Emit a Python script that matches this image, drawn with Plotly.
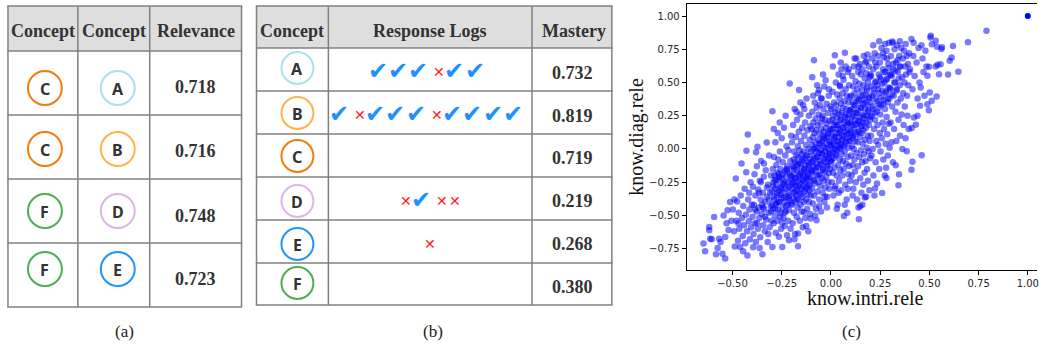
import plotly.graph_objects as go

# ---------------- data: table (a) ----------------
rel_header = ["Concept", "Concept", "Relevance"]
rel_concept_1 = ["C", "C", "F", "F"]
rel_concept_2 = ["A", "B", "D", "E"]
relevance = ["0.718", "0.716", "0.748", "0.723"]

# ---------------- data: table (b) ----------------
mas_header = ["Concept", "Response Logs", "Mastery"]
mas_concepts = ["A", "B", "C", "D", "E", "F"]
response_logs = ["✓✓✓✗✓✓", "✓✗✓✓✓✗✓✓✓✓", "", "✗✓✗✗", "✗", ""]
mastery = ["0.732", "0.819", "0.719", "0.219", "0.268", "0.380"]

captions = ["(a)", "(b)", "(c)"]

# ---------------- data: scatter (c), read by x-band ----------------
band_a = [(-0.647,-0.712),(-0.639,-0.770),(-0.618,-0.587),(-0.618,-0.612),(-0.613,-0.675),
          (-0.593,-0.512),(-0.584,-0.793),(-0.568,-0.675),(-0.551,-0.788),(-0.537,-0.825),
          (-0.537,-0.662),(-0.525,-0.462),(-0.512,-0.399),(-0.605,-0.680),(-0.560,-0.700),
          (-0.530,-0.560),(-0.520,-0.610),(-0.505,-0.540),(-0.545,-0.500),(-0.575,-0.745)]
band_b = [(-0.498,-0.455),(-0.492,-0.620),(-0.488,-0.735),(-0.483,-0.223),(-0.480,-0.540),
          (-0.476,-0.395),(-0.472,-0.690),(-0.468,-0.480),(-0.465,-0.600),(-0.461,-0.738),
          (-0.458,-0.350),(-0.454,-0.110),(-0.452,-0.520),(-0.448,-0.655),(-0.445,-0.430),
          (-0.441,-0.575),(-0.438,-0.300),(-0.435,-0.710),(-0.432,-0.495),(-0.429,-0.014),
          (-0.426,-0.620),(-0.424,-0.801),(-0.422,0.108),(-0.420,-0.380),(-0.417,-0.545),
          (-0.414,-0.455),(-0.411,-0.680),(-0.408,-0.250),(-0.405,-0.590),(-0.402,-0.420),
          (-0.446,-0.770),(-0.470,-0.560),(-0.415,-0.330),(-0.430,-0.175),(-0.490,-0.380)]
band_c = [(-0.398,-0.510),(-0.396,-0.285),(-0.393,-0.640),(-0.391,-0.420),(-0.388,-0.190),
          (-0.386,-0.560),(-0.383,-0.350),(-0.381,-0.700),(-0.378,-0.470),(-0.376,-0.130),
          (-0.373,0.016),(-0.371,-0.600),(-0.369,-0.305),(-0.366,-0.440),(-0.364,-0.520),
          (-0.361,-0.240),(-0.359,-0.665),(-0.356,-0.380),(-0.354,-0.090),(-0.351,-0.490),
          (-0.348,-0.793),(-0.346,-0.330),(-0.344,-0.575),(-0.341,-0.210),(-0.339,-0.450),
          (-0.336,-0.620),(-0.334,-0.400),(-0.331,-0.160),(-0.329,-0.530),(-0.326,0.049),
          (-0.324,-0.360),(-0.321,-0.700),(-0.319,-0.270),(-0.316,-0.480),(-0.314,-0.050),
          (-0.311,-0.590),(-0.309,-0.330),(-0.306,-0.430),(-0.304,-0.200),(-0.302,-0.540),
          (-0.385,-0.455),(-0.375,-0.560),(-0.365,-0.330),(-0.355,-0.250),(-0.345,-0.440),
          (-0.335,-0.510),(-0.325,-0.290),(-0.315,-0.380),(-0.305,-0.470),(-0.395,-0.740),
          (-0.362,-0.745),(-0.318,-0.640),(-0.340,-0.110),(-0.380,-0.025),(-0.350,-0.420)]
band_d = [(-0.299,-0.320),(-0.297,0.284),(-0.297,-0.738),(-0.295,-0.150),(-0.294,-0.450),
          (-0.292,-0.250),(-0.291,-0.560),(-0.289,-0.060),(-0.288,-0.380),(-0.286,-0.200),
          (-0.285,-0.500),(-0.283,-0.300),(-0.282,0.050),(-0.280,-0.630),(-0.279,-0.420),
          (-0.277,-0.120),(-0.276,-0.270),(-0.274,-0.350),(-0.273,-0.540),(-0.271,-0.180),
          (-0.270,0.120),(-0.268,-0.460),(-0.267,-0.080),(-0.265,-0.310),(-0.264,-0.660),
          (-0.262,-0.230),(-0.261,-0.400),(-0.259,-0.020),(-0.258,-0.510),(-0.256,-0.150),
          (-0.255,-0.290),(-0.253,-0.600),(-0.252,-0.370),(-0.250,0.080),(-0.249,-0.220),
          (-0.247,-0.738),(-0.246,-0.440),(-0.244,-0.100),(-0.243,-0.330),(-0.241,-0.520),
          (-0.240,-0.260),(-0.238,0.160),(-0.237,-0.400),(-0.235,-0.170),(-0.234,-0.580),
          (-0.232,-0.050),(-0.231,-0.300),(-0.229,-0.470),(-0.228,-0.210),(-0.226,-0.360),
          (-0.225,0.020),(-0.223,-0.650),(-0.222,-0.130),(-0.220,-0.420),(-0.219,-0.250),
          (-0.217,-0.540),(-0.216,-0.010),(-0.214,-0.330),(-0.213,-0.460),(-0.211,-0.180),
          (-0.210,-0.280),(-0.209,0.493),(-0.208,-0.390),(-0.206,-0.090),(-0.205,-0.600),
          (-0.203,-0.230),(-0.202,0.100),(-0.213,-0.688),(-0.285,-0.235),(-0.275,-0.405),
          (-0.265,-0.190),(-0.255,-0.345),(-0.245,-0.265),(-0.235,-0.480),(-0.225,-0.150),
          (-0.215,-0.370),(-0.260,0.200),(-0.290,0.150),(-0.230,0.250),(-0.248,-0.555)]
band_e = [(-0.199,-0.210),(-0.198,-0.420),(-0.197,0.050),(-0.196,-0.300),(-0.195,-0.130),
          (-0.194,-0.560),(-0.193,-0.250),(-0.192,0.180),(-0.191,-0.370),(-0.190,-0.080),
          (-0.189,-0.190),(-0.188,-0.480),(-0.187,-0.020),(-0.186,-0.330),(-0.185,-0.150),
          (-0.184,0.300),(-0.183,-0.270),(-0.182,-0.640),(-0.181,-0.100),(-0.180,-0.400),
          (-0.179,-0.220),(-0.178,0.090),(-0.177,-0.350),(-0.176,-0.050),(-0.175,-0.280),
          (-0.174,-0.510),(-0.173,-0.160),(-0.172,0.220),(-0.171,-0.310),(-0.170,-0.120),
          (-0.169,-0.440),(-0.168,0.020),(-0.167,-0.733),(-0.167,-0.637),(-0.166,-0.240),
          (-0.165,-0.060),(-0.164,-0.380),(-0.163,0.130),(-0.162,0.443),(-0.161,-0.200),
          (-0.160,-0.330),(-0.159,-0.010),(-0.158,-0.540),(-0.157,-0.260),(-0.156,-0.110),
          (-0.155,0.260),(-0.154,-0.420),(-0.153,-0.180),(-0.152,0.060),(-0.151,-0.300),
          (-0.150,-0.140),(-0.149,-0.470),(-0.148,-0.040),(-0.147,-0.230),(-0.146,0.160),
          (-0.145,-0.360),(-0.144,-0.090),(-0.143,-0.590),(-0.142,-0.200),(-0.141,0.330),
          (-0.140,-0.280),(-0.139,-0.020),(-0.138,-0.400),(-0.137,-0.474),(-0.136,-0.150),
          (-0.135,0.100),(-0.134,-0.320),(-0.133,-0.070),(-0.132,-0.250),(-0.131,0.200),
          (-0.130,-0.520),(-0.129,-0.120),(-0.128,-0.210),(-0.127,0.030),(-0.126,-0.380),
          (-0.125,-0.170),(-0.124,0.380),(-0.123,-0.290),(-0.122,-0.050),(-0.121,-0.450),
          (-0.120,-0.230),(-0.119,0.140),(-0.118,-0.340),(-0.117,-0.100),(-0.116,-0.190),
          (-0.115,-0.620),(-0.114,0.000),(-0.113,-0.270),(-0.112,0.250),(-0.111,-0.400),
          (-0.110,-0.140),(-0.109,-0.310),(-0.108,0.070),(-0.107,-0.220),(-0.106,-0.490),
          (-0.105,-0.080),(-0.104,0.170),(-0.103,-0.524),(-0.102,-0.350),(-0.101,-0.160),
          (-0.175,0.280),(-0.155,0.350),(-0.135,0.300),(-0.185,-0.680),(-0.125,-0.580)]
band_f = [(-0.099,-0.100),(-0.098,0.150),(-0.097,-0.300),(-0.096,0.030),(-0.095,-0.180),
          (-0.094,0.280),(-0.093,-0.050),(-0.092,-0.410),(-0.091,0.090),(-0.090,-0.230),
          (-0.089,0.200),(-0.088,-0.130),(-0.087,0.000),(-0.086,0.668),(-0.085,-0.350),
          (-0.084,0.120),(-0.083,-0.070),(-0.082,0.350),(-0.081,-0.260),(-0.080,0.050),
          (-0.079,-0.160),(-0.078,0.230),(-0.077,-0.020),(-0.076,-0.450),(-0.075,0.140),
          (-0.074,-0.110),(-0.073,-0.537),(-0.072,0.310),(-0.071,-0.200),(-0.070,0.010),
          (-0.069,-0.320),(-0.068,0.180),(-0.067,-0.060),(-0.066,0.420),(-0.065,-0.140),
          (-0.064,0.070),(-0.063,-0.250),(-0.062,0.260),(-0.061,0.443),(-0.060,-0.030),
          (-0.059,-0.380),(-0.058,0.110),(-0.057,-0.090),(-0.056,0.330),(-0.055,-0.190),
          (-0.054,0.040),(-0.053,-0.280),(-0.052,0.200),(-0.051,-0.010),(-0.050,-0.470),
          (-0.049,0.150),(-0.048,-0.120),(-0.047,0.380),(-0.046,-0.220),(-0.045,0.060),
          (-0.044,-0.040),(-0.043,0.250),(-0.042,-0.330),(-0.041,0.100),(-0.040,-0.150),
          (-0.039,0.020),(-0.038,0.300),(-0.037,-0.240),(-0.036,0.130),(-0.035,-0.080),
          (-0.034,0.470),(-0.033,-0.400),(-0.032,0.080),(-0.031,-0.170),(-0.030,0.220),
          (-0.029,-0.020),(-0.028,-0.290),(-0.027,0.518),(-0.026,0.160),(-0.025,-0.100),
          (-0.024,0.040),(-0.023,-0.210),(-0.022,0.340),(-0.021,-0.050),(-0.020,0.190),
          (-0.019,-0.360),(-0.018,0.090),(-0.017,-0.130),(-0.016,0.270),(-0.015,0.000),
          (-0.014,-0.250),(-0.013,0.120),(-0.012,-0.070),(-0.011,0.400),(-0.010,-0.180),
          (-0.009,0.060),(-0.008,-0.300),(-0.007,0.210),(-0.006,-0.030),(-0.005,0.140),
          (-0.004,-0.150),(-0.003,0.320),(-0.002,-0.090),(-0.001,0.030),(-0.095,0.540),
          (-0.080,-0.500),(-0.060,-0.430),(-0.040,0.560),(-0.020,-0.440),(-0.070,0.480),
          (-0.050,0.380),(-0.030,-0.360),(-0.090,0.400),(-0.010,0.450),(-0.045,0.230)]
band_g = [(0.001,0.150),(0.002,-0.100),(0.003,0.300),(0.004,0.020),(0.005,-0.250),
          (0.006,0.220),(0.007,-0.030),(0.008,0.430),(0.009,0.100),(0.010,-0.180),
          (0.011,0.250),(0.012,0.040),(0.013,-0.350),(0.014,0.180),(0.015,-0.070),
          (0.016,0.350),(0.017,0.080),(0.018,-0.140),(0.019,0.280),(0.020,0.706),
          (0.021,0.000),(0.022,0.200),(0.023,-0.280),(0.024,0.120),(0.025,0.500),
          (0.026,-0.050),(0.027,0.330),(0.028,0.060),(0.029,-0.200),(0.030,0.240),
          (0.031,-0.010),(0.032,0.410),(0.033,0.150),(0.034,-0.420),(0.035,0.050),
          (0.036,0.290),(0.037,-0.120),(0.038,0.180),(0.039,0.560),(0.040,0.090),
          (0.041,-0.240),(0.042,0.260),(0.043,0.010),(0.044,0.380),(0.045,-0.080),
          (0.046,0.140),(0.047,0.470),(0.048,-0.160),(0.049,0.220),(0.050,0.030),
          (0.051,0.340),(0.052,-0.310),(0.053,0.110),(0.054,0.600),(0.055,-0.040),
          (0.056,0.270),(0.057,0.070),(0.058,-0.200),(0.059,0.420),(0.060,0.160),
          (0.061,-0.090),(0.062,0.310),(0.063,0.020),(0.064,0.520),(0.065,-0.150),
          (0.066,-0.504),(0.067,0.200),(0.068,0.100),(0.069,0.360),(0.070,-0.020),
          (0.071,0.724),(0.072,0.240),(0.073,-0.270),(0.074,0.130),(0.075,0.450),
          (0.076,0.050),(0.077,-0.110),(0.078,0.300),(0.079,0.180),(0.080,-0.380),
          (0.081,0.400),(0.082,0.080),(0.083,-0.481),(0.084,0.230),(0.085,-0.060),
          (0.086,0.580),(0.087,0.140),(0.088,-0.190),(0.089,0.350),(0.090,0.010),
          (0.091,0.260),(0.092,0.480),(0.093,-0.130),(0.094,0.190),(0.095,0.060),
          (0.096,0.390),(0.097,-0.240),(0.098,0.290),(0.099,0.120),(0.010,0.620),
          (0.030,-0.450),(0.050,0.650),(0.070,-0.420),(0.090,0.600),(0.040,-0.330),
          (0.060,0.550),(0.085,-0.300),(0.020,-0.300),(0.045,0.480),(0.075,0.620)]
band_h = [(0.101,0.200),(0.102,-0.050),(0.103,0.400),(0.104,0.100),(0.105,-0.200),
          (0.106,0.300),(0.107,0.020),(0.108,0.550),(0.109,0.180),(0.110,-0.120),
          (0.111,0.350),(0.112,0.080),(0.113,0.470),(0.114,-0.300),(0.115,0.250),
          (0.116,0.000),(0.117,0.620),(0.118,0.150),(0.119,-0.080),(0.120,0.420),
          (0.121,0.220),(0.122,-0.170),(0.123,0.330),(0.124,0.060),(0.125,0.510),
          (0.126,-0.250),(0.127,0.270),(0.128,0.110),(0.129,0.680),(0.130,-0.030),
          (0.131,0.380),(0.132,0.190),(0.133,-0.380),(0.134,0.450),(0.135,0.050),
          (0.136,0.290),(0.137,-0.130),(0.138,0.580),(0.139,0.210),(0.140,-0.440),
          (0.141,0.360),(0.142,-0.529),(0.143,0.130),(0.144,0.490),(0.145,-0.060),
          (0.146,0.240),(0.147,0.640),(0.148,0.090),(0.149,-0.220),(0.150,0.400),
          (0.151,0.170),(0.152,0.560),(0.153,-0.010),(0.154,0.310),(0.155,-0.330),
          (0.156,0.120),(0.157,0.440),(0.158,0.260),(0.159,-0.100),(0.160,0.600),
          (0.161,0.040),(0.162,0.340),(0.163,0.200),(0.164,-0.270),(0.165,0.480),
          (0.166,0.140),(0.167,0.700),(0.168,-0.040),(0.169,0.370),(0.170,0.230),
          (0.171,-0.180),(0.172,0.530),(0.173,0.070),(0.174,0.300),(0.175,0.650),
          (0.176,-0.090),(0.177,0.410),(0.178,0.160),(0.179,-0.360),(0.180,0.570),
          (0.181,0.250),(0.182,0.010),(0.183,0.460),(0.184,-0.150),(0.185,0.330),
          (0.186,0.710),(0.187,0.100),(0.188,-0.240),(0.189,0.500),(0.190,0.280),
          (0.191,-0.020),(0.192,0.620),(0.193,0.180),(0.194,0.390),(0.195,-0.310),
          (0.196,0.060),(0.197,0.540),(0.198,0.220),(0.199,-0.070),(0.120,0.680),
          (0.160,-0.420),(0.180,0.660),(0.140,0.620),(0.110,-0.350),(0.149,-0.431),
          (0.172,-0.365)]
band_i = [(0.201,0.350),(0.203,0.100),(0.204,0.550),(0.206,-0.050),(0.207,0.250),
          (0.209,0.680),(0.210,0.400),(0.212,0.000),(0.213,0.300),(0.215,0.600),
          (0.216,-0.200),(0.218,0.450),(0.219,0.150),(0.221,-0.351),(0.222,0.720),
          (0.224,0.220),(0.225,0.500),(0.227,-0.100),(0.228,0.380),(0.230,0.060),
          (0.231,0.620),(0.233,0.280),(0.234,-0.260),(0.236,0.480),(0.237,0.180),
          (0.239,0.700),(0.240,0.030),(0.242,0.340),(0.243,0.560),(0.245,-0.150),
          (0.246,0.420),(0.248,0.120),(0.249,0.650),(0.251,0.260),(0.252,-0.020),
          (0.254,0.520),(0.255,0.330),(0.257,0.760),(0.258,0.080),(0.260,-0.331),
          (0.261,0.440),(0.263,0.200),(0.264,0.600),(0.266,-0.080),(0.267,0.370),
          (0.269,0.690),(0.270,0.150),(0.272,0.500),(0.273,-0.200),(0.275,0.300),
          (0.276,0.580),(0.278,0.040),(0.279,0.420),(0.280,-0.142),(0.282,0.740),
          (0.283,0.240),(0.285,0.530),(0.286,0.110),(0.288,0.350),(0.289,-0.050),
          (0.291,0.640),(0.292,0.460),(0.294,0.190),(0.295,0.800),(0.297,0.380),
          (0.298,0.010),(0.299,0.560),(0.215,0.780),(0.245,0.810),(0.265,0.720),
          (0.224,-0.298),(0.282,-0.218),(0.285,0.680),(0.225,0.650),(0.275,0.790)]
band_j = [(0.301,0.450),(0.303,0.200),(0.305,0.700),(0.307,0.050),(0.309,0.550),
          (0.311,0.320),(0.313,0.800),(0.315,-0.100),(0.317,0.600),(0.319,0.400),
          (0.321,0.150),(0.323,0.750),(0.325,0.500),(0.329,-0.122),(0.328,0.280),
          (0.330,0.650),(0.332,0.060),(0.334,0.440),(0.336,0.780),(0.338,0.350),
          (0.340,0.580),(0.343,-0.273),(0.343,0.220),(0.346,-0.190),(0.347,0.700),
          (0.349,0.480),(0.351,0.100),(0.353,0.620),(0.355,0.380),(0.357,0.760),
          (0.359,0.260),(0.361,0.540),(0.363,0.000),(0.365,0.680),(0.367,0.420),
          (0.369,0.180),(0.371,0.740),(0.373,0.500),(0.375,0.320),(0.377,0.620),
          (0.379,0.080),(0.381,0.560),(0.385,-0.017),(0.385,0.700),(0.387,0.400),
          (0.389,0.250),(0.391,0.640),(0.393,0.480),(0.395,0.150),(0.397,0.720),
          (0.399,0.580),(0.312,0.809),(0.350,0.810),(0.380,0.790)]
band_k = [(0.401,0.600),(0.409,0.827),(0.409,-0.157),(0.410,0.157),(0.414,-0.097),
          (0.414,0.450),(0.418,0.700),(0.422,0.237),(0.425,0.550),(0.431,0.182),
          (0.435,0.650),(0.440,0.380),(0.445,0.760),(0.450,0.500),(0.453,0.325),
          (0.456,0.463),(0.461,-0.047),(0.465,0.680),(0.470,0.580),(0.475,0.400),
          (0.480,0.740),(0.485,0.620),(0.490,0.551),(0.490,0.337),(0.497,0.292),
          (0.498,0.618),(0.420,0.800),(0.440,0.250),(0.460,0.780)]
band_l = [(0.502,0.425),(0.505,0.839),(0.507,0.852),(0.512,0.362),(0.513,0.789),
          (0.532,0.621),(0.532,0.814),(0.537,0.395),(0.539,0.770),(0.542,0.633),
          (0.549,0.563),(0.557,0.638),(0.561,0.753),(0.564,0.766),(0.595,0.561),
          (0.603,0.663),(0.613,0.689),(0.620,0.774),(0.647,0.581),(0.696,0.804),
          (0.790,0.889)]
band_core = [(-0.300,-0.420),(-0.294,-0.280),(-0.289,-0.360),(-0.283,-0.450),(-0.278,-0.230),
             (-0.272,-0.330),(-0.267,-0.400),(-0.261,-0.210),(-0.256,-0.480),(-0.250,-0.300),
             (-0.245,-0.190),(-0.239,-0.370),(-0.234,-0.250),(-0.228,-0.430),(-0.223,-0.160),
             (-0.217,-0.290),(-0.212,-0.350),(-0.206,-0.200),(-0.201,-0.410),(-0.195,-0.260),
             (-0.190,-0.140),(-0.184,-0.320),(-0.179,-0.220),(-0.173,-0.380),(-0.168,-0.110),
             (-0.162,-0.280),(-0.157,-0.190),(-0.151,-0.340),(-0.146,-0.080),(-0.140,-0.240),
             (-0.135,-0.160),(-0.129,-0.300),(-0.124,-0.050),(-0.118,-0.210),(-0.113,-0.120),
             (-0.107,-0.270),(-0.102,-0.020),(-0.096,-0.170),(-0.091,-0.090),(-0.085,-0.240),
             (-0.080,0.010),(-0.074,-0.140),(-0.069,-0.060),(-0.063,-0.200),(-0.058,0.040),
             (-0.052,-0.110),(-0.047,-0.030),(-0.041,-0.160),(-0.036,0.080),(-0.030,-0.070),
             (-0.025,0.010),(-0.019,-0.120),(-0.014,0.110),(-0.008,-0.040),(-0.003,0.050),
             (0.003,-0.080),(0.008,0.150),(0.014,0.000),(0.019,0.090),(0.025,-0.040),
             (0.030,0.180),(0.036,0.030),(0.041,0.120),(0.047,0.000),(0.052,0.220),
             (0.058,0.070),(0.063,0.160),(0.069,0.030),(0.074,0.260),(0.080,0.110),
             (0.085,0.200),(0.091,0.060),(0.096,0.290),(0.102,0.140),(0.107,0.240),
             (0.113,0.100),(0.118,0.330),(0.124,0.180),(0.129,0.270),(0.135,0.130),
             (0.140,0.370),(0.146,0.210),(0.151,0.310),(0.157,0.170),(0.162,0.400),
             (0.168,0.250),(0.173,0.350),(0.179,0.200),(0.184,0.440),(0.190,0.290),
             (0.195,0.380),(0.201,0.240),(0.206,0.470),(0.212,0.320),(0.217,0.420),
             (0.223,0.270),(0.228,0.510),(0.234,0.360),(0.239,0.450),(0.245,0.310),
             (0.250,0.540),(0.256,0.390),(0.261,0.490),(0.267,0.340),(0.272,0.580),
             (0.278,0.430),(0.283,0.520),(0.289,0.380),(0.294,0.610),(0.300,0.460),
             (0.306,0.560),(0.311,0.410),(0.317,0.640),(0.322,0.500),(0.328,0.590),
             (0.333,0.450),(0.339,0.670),(0.344,0.530),(0.350,0.620),(0.200,0.560)]
self_point = [(1.0, 1.0)]

bands = [band_a, band_b, band_c, band_d, band_e, band_f, band_g,
         band_h, band_i, band_j, band_k, band_l, band_core]
know_intri = [p[0] for b in bands for p in b]
know_diag = [p[1] for b in bands for p in b]

# ---------------- styling ----------------
W, H = 1039, 347
GRID = "#808080"
HEAD_FILL = "#dedede"
TXT = "#333333"
SERIF = "Liberation Serif, Times New Roman, serif"
SANS = "Noto Sans, DejaVu Sans, sans-serif"
CIRCLE_COLORS = {"A": "#a8e2ee", "B": "#ffb24d", "C": "#f27d0c",
                 "D": "#ddb6e6", "E": "#2196f3", "F": "#4caf50"}
CHECK_COLOR = "#1e90ff"
CROSS_COLOR = "#ff1a1a"

fig = go.Figure()

fig.add_trace(go.Scatter(
    x=know_intri, y=know_diag, mode="markers",
    marker=dict(size=6.5, color="rgba(0,0,255,0.52)", line=dict(width=0)),
    xaxis="x", yaxis="y", showlegend=False, hoverinfo="skip"))
fig.add_trace(go.Scatter(
    x=[p[0] for p in self_point], y=[p[1] for p in self_point], mode="markers",
    marker=dict(size=6, color="rgb(0,0,255)", line=dict(width=0)),
    xaxis="x", yaxis="y", showlegend=False, hoverinfo="skip", cliponaxis=False))
fig.add_trace(go.Scatter(x=[], y=[], xaxis="x2", yaxis="y2", showlegend=False))

shapes = []
annots = []


def line(x0, y0, x1, y1, color=GRID, width=1.5):
    shapes.append(dict(type="line", xref="x2", yref="y2", x0=x0, y0=y0, x1=x1, y1=y1,
                       line=dict(color=color, width=width)))


def rect(x0, y0, x1, y1, fill):
    shapes.append(dict(type="rect", xref="x2", yref="y2", x0=x0, y0=y0, x1=x1, y1=y1,
                       fillcolor=fill, line=dict(width=0), layer="below"))


def circle(cx, cy, r, color):
    shapes.append(dict(type="circle", xref="x2", yref="y2", x0=cx - r, y0=cy - r,
                       x1=cx + r, y1=cy + r, line=dict(color=color, width=2),
                       fillcolor="white"))


def text(x, y, s, size, family=SERIF, color=TXT, bold=True, angle=0):
    annots.append(dict(xref="x2", yref="y2", x=x, y=y, showarrow=False,
                       text=f"<b>{s}</b>" if bold else s,
                       font=dict(family=family, size=size, color=color),
                       xanchor="center", yanchor="middle", textangle=angle))


def table(x_edges, head_bottom, row_edges):
    top = 6
    rect(x_edges[0], top, x_edges[-1], head_bottom, HEAD_FILL)
    for xe in x_edges:
        line(xe, top, xe, row_edges[-1])
    for ye in [top, head_bottom] + row_edges:
        line(x_edges[0] - 0.75, ye, x_edges[-1] + 0.75, ye)


# ---------- table (a) ----------
a_cols = [8, 78, 150, 242]
a_rows = [115, 179, 243, 307]
table(a_cols, 51, a_rows)
a_centers = [(a_cols[i] + a_cols[i + 1]) / 2 for i in range(3)]
for i, h in enumerate(rel_header):
    text(a_centers[i], 31, h, 18)
a_circle_y = [88, 149, 211, 269]
a_value_y = [87, 151, 216, 279]
for i in range(len(relevance)):
    for cx, c in ((45, rel_concept_1[i]), (118, rel_concept_2[i])):
        circle(cx, a_circle_y[i], 17, CIRCLE_COLORS[c])
        text(cx, a_circle_y[i] + 1, c, 16, family=SANS, color=TXT)
    text(a_centers[2], a_value_y[i], relevance[i], 18)

# ---------- table (b) ----------
b_cols = [257, 329, 533, 613]
b_rows = [91, 134, 177, 220, 263, 305]
table(b_cols, 48, b_rows)
b_centers = [(b_cols[i] + b_cols[i + 1]) / 2 for i in range(3)]
for i, h in enumerate(mas_header):
    text(b_centers[i] + (2 if i == 2 else 0), 31, h, 18)
b_circle_y = [68, 113, 156, 201, 244, 283]
b_value_y = [73, 116, 158, 201, 244, 287]
log_y = [71, 114, 157, 200, 243, 286]
for i, c in enumerate(mas_concepts):
    circle(298, b_circle_y[i], 16, CIRCLE_COLORS[c])
    text(298, b_circle_y[i] + 1, c, 16, family=SANS, color=TXT)
    text(574, b_value_y[i], mastery[i], 18)
    seq = response_logs[i]
    if not seq:
        continue
    pos = [0.0]
    for prev, cur in zip(seq, seq[1:]):
        if prev == "✓" and cur == "✓":
            step = 20.5
        elif prev == "✓":
            step = 21
        elif cur == "✓":
            step = 15
        else:
            step = 13
        pos.append(pos[-1] + step)
    shift = 431 - (pos[0] + pos[-1]) / 2 - 2 * (seq[0] == "✓") - 2 * (seq[-1] == "✓")
    for p, ch in zip(pos, seq):
        if ch == "✓":
            text(p + shift, log_y[i], "✔", 24, family="DejaVu Sans", color=CHECK_COLOR, bold=False)
        else:
            text(p + shift, log_y[i] + 1, "✕", 14, family="DejaVu Sans", color=CROSS_COLOR, bold=False)

# ---------- captions & scatter labels ----------
cap_x = [125, 434, 853]
for s, cx in zip(captions, cap_x):
    text(cx, 331, s, 17, color="#222222", bold=False)
text(867, 298, "know.intri.rele", 20, color="#111111", bold=False)
text(637, 137, "know.diag.rele", 20, color="#111111", bold=False, angle=-90)

# ---------- layout ----------
x_px0, y_px0, y_px1 = 688, 4, 270
fig.update_layout(
    width=W, height=H, autosize=False,
    margin=dict(l=0, r=0, t=0, b=0),
    paper_bgcolor="white", plot_bgcolor="rgba(0,0,0,0)",
    shapes=shapes, annotations=annots,
    xaxis=dict(domain=[x_px0 / W, 1.0], range=[-0.7325, -0.7325 + (W - x_px0) / 197.3],
               showgrid=False, zeroline=False, showline=True, linecolor="black",
               linewidth=1, mirror=True, ticks="outside", ticklen=4, tickwidth=1,
               tickcolor="black", tick0=0, dtick=0.25, tickformat=".2f",
               ticklabeloverflow="allow",
               tickfont=dict(family="DejaVu Sans", size=10, color="#262626"),
               anchor="y", fixedrange=True),
    yaxis=dict(domain=[(H - y_px1) / H, (H - y_px0) / H], range=[-0.911, 1.091],
               showgrid=False, zeroline=False, showline=True, linecolor="black",
               linewidth=1, ticks="outside", ticklen=4, tickwidth=1, tickcolor="black",
               tick0=0, dtick=0.25, tickformat=".2f",
               tickfont=dict(family="DejaVu Sans", size=10, color="#262626"),
               anchor="x", fixedrange=True),
    xaxis2=dict(domain=[0, 1], range=[0, W], visible=False, anchor="y2", fixedrange=True),
    yaxis2=dict(domain=[0, 1], range=[H, 0], visible=False, anchor="x2", fixedrange=True),
)

fig.write_html(
    "out.html",
    config={"displayModeBar": False, "staticPlot": True},
    post_script="document.body.style.margin='0';document.body.style.overflow='hidden';",
)
